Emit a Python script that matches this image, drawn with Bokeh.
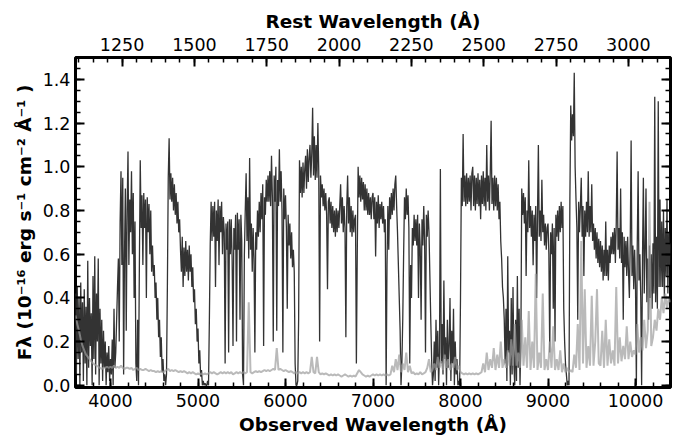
import numpy as np
from bokeh.plotting import figure
from bokeh.models import (Range1d, LinearAxis, FixedTicker, PrintfTickFormatter,
                          CustomJSTickFormatter)
from bokeh.embed import file_html
from bokeh.resources import INLINE

# ---------------- data ----------------
redshift = 2.306
obs_ticks = [4000, 5000, 6000, 7000, 8000, 9000, 10000]
rest_ticks = [1250, 1500, 1750, 2000, 2250, 2500, 2750, 3000]
flux_ticks = [0.0, 0.2, 0.4, 0.6, 0.8, 1.0, 1.2, 1.4]

wave_start = 3600   # first wavelength sample (Angstrom)
flux_step = 10      # sampling of the spectrum (Angstrom)
err_step = 20       # sampling of the error spectrum (Angstrom)

# observed flux, 10 A steps from 3600 A (one row = 100 A)
flux = [
    0.42, 0.05, 0.45, 0.12, 0.40, 0.00, 0.47, 0.15, 0.38, 0.02,  # 3600
    0.44, 0.10, 0.36, 0.00, 0.57, 0.08, 0.40, 0.18, 0.33, 0.00,  # 3700
    0.50, 0.12, 0.59, 0.05, 0.42, 0.20, 0.58, 0.00, 0.35, 0.10,  # 3800
    0.30, 0.02, 0.25, 0.08, 0.20, 0.00, 0.15, 0.06, 0.18, 0.02,  # 3900
    0.12, 0.05, 0.21, 0.00, 0.35, 0.08, 0.15, 0.30, 0.45, 0.58,  # 4000
    0.20, 0.75, 0.98, 0.55, 0.95, 0.05, 0.60, 0.90, 0.25, 0.80,  # 4100
    1.07, 0.55, 0.85, 0.70, 0.98, 0.60, 0.88, 0.40, 0.75, 0.10,  # 4200
    0.02, 0.30, 0.00, 0.55, 1.03, 0.72, 0.87, 0.55, 0.88, 0.72,  # 4300
    0.85, 0.40, 0.86, 0.70, 0.83, 0.60, 0.80, 0.52, 0.64, 0.50,  # 4400
    0.55, 0.40, 0.47, 0.30, 0.40, 0.22, 0.30, 0.13, 0.22, 0.06,  # 4500
    0.12, 0.02, 0.05, 0.00, 0.05, 0.45, 0.95, 1.13, 0.85, 0.97,  # 4600
    0.84, 0.95, 0.80, 0.92, 0.78, 0.88, 0.74, 0.84, 0.70, 0.76,  # 4700
    0.62, 0.52, 0.68, 0.45, 0.63, 0.50, 0.66, 0.52, 0.62, 0.48,  # 4800
    0.64, 0.52, 0.60, 0.45, 0.54, 0.38, 0.44, 0.28, 0.35, 0.20,  # 4900
    0.26, 0.10, 0.16, 0.04, 0.07, 0.00, 0.02, 0.00, 0.01, 0.00,  # 5000
    0.00, 0.02, 0.00, 0.30, 0.65, 0.84, 0.66, 0.82, 0.68, 0.84,  # 5100
    0.45, 0.80, 0.66, 0.85, 0.55, 0.82, 0.70, 0.84, 0.60, 0.77,  # 5200
    0.70, 0.10, 0.74, 0.62, 0.75, 0.15, 0.76, 0.60, 0.76, 0.58,  # 5300
    0.18, 0.72, 0.62, 0.78, 0.20, 0.79, 0.62, 0.76, 0.30, 0.78,  # 5400
    0.66, 0.05, 0.00, 0.60, 0.80, 0.97, 0.66, 0.86, 0.58, 1.04,  # 5500
    0.62, 0.74, 0.52, 0.72, 0.58, 0.15, 0.70, 0.62, 0.80, 0.68,  # 5600
    0.84, 0.70, 0.88, 0.76, 0.92, 0.18, 0.86, 0.78, 0.94, 0.84,  # 5700
    0.96, 0.84, 0.98, 0.82, 1.05, 0.86, 0.20, 0.96, 0.84, 1.00,  # 5800
    0.25, 0.94, 0.82, 1.08, 0.84, 0.98, 0.80, 0.15, 0.90, 0.76,  # 5900
    0.87, 0.72, 0.35, 0.78, 0.64, 0.74, 0.58, 0.70, 0.54, 0.62,  # 6000
    0.52, 0.10, 0.00, 0.00, 0.02, 0.30, 1.03, 0.88, 1.00, 0.86,  # 6100
    1.02, 0.88, 0.99, 1.05, 0.90, 1.08, 0.93, 1.04, 1.10, 0.95,  # 6200
    1.06, 1.27, 0.96, 1.14, 0.94, 1.10, 0.95, 1.20, 0.98, 0.20,  # 6300
    0.96, 0.86, 0.92, 0.82, 0.90, 0.80, 0.88, 0.78, 0.44, 0.84,  # 6400
    0.86, 0.74, 0.84, 0.72, 0.82, 0.70, 0.80, 0.68, 0.81, 0.70,  # 6500
    0.80, 0.72, 0.82, 0.92, 0.74, 0.86, 0.70, 0.82, 0.72, 0.22,  # 6600
    0.82, 0.96, 0.74, 0.86, 0.70, 0.82, 0.68, 0.80, 0.70, 0.76,  # 6700
    0.78, 0.10, 0.60, 1.00, 0.86, 0.96, 0.84, 0.95, 0.85, 0.93,  # 6800
    0.80, 0.92, 0.80, 0.90, 0.78, 0.88, 0.78, 0.86, 0.76, 0.86,  # 6900
    0.88, 0.76, 0.86, 0.59, 0.84, 0.74, 0.87, 0.72, 0.83, 0.76,  # 7000
    0.84, 0.74, 0.82, 0.70, 0.76, 0.00, 0.55, 0.82, 0.62, 0.86,  # 7100
    0.76, 0.88, 0.78, 0.90, 0.80, 0.92, 0.96, 0.82, 0.70, 0.55,  # 7200
    0.40, 0.25, 0.00, 0.10, 0.30, 0.60, 0.86, 0.76, 0.90, 0.78,  # 7300
    0.87, 0.72, 0.10, 0.55, 0.40, 0.72, 0.64, 0.78, 0.66, 0.76,  # 7400
    0.64, 0.78, 0.40, 0.74, 0.62, 0.30, 0.76, 0.64, 0.82, 0.66,  # 7500
    0.15, 0.78, 0.68, 0.80, 0.70, 0.50, 0.30, 0.12, 0.00, 0.05,  # 7600
    0.20, 0.02, 0.30, 0.08, 0.25, 0.00, 0.15, 0.99, 0.10, 0.28,  # 7700
    0.05, 0.48, 0.12, 0.22, 0.00, 0.30, 0.08, 0.18, 0.40, 0.02,  # 7800
    0.25, 0.10, 0.35, 0.00, 0.20, 0.05, 0.12, 0.00, 0.02, 0.00,  # 7900
    0.40, 0.95, 0.82, 1.15, 0.84, 0.96, 0.82, 0.97, 0.83, 0.95,  # 8000
    0.84, 0.96, 0.80, 0.97, 1.00, 0.82, 0.96, 0.80, 0.95, 0.83,  # 8100
    0.97, 0.82, 0.94, 0.76, 0.96, 0.83, 0.98, 0.82, 0.95, 0.80,  # 8200
    1.10, 0.84, 0.96, 0.80, 0.97, 1.21, 0.83, 0.95, 0.80, 0.96,  # 8300
    0.82, 0.95, 0.80, 0.92, 0.76, 0.84, 0.66, 0.58, 0.45, 0.40,  # 8400
    0.30, 0.10, 0.35, 0.02, 0.59, 0.15, 0.25, 0.00, 0.40, 0.05,  # 8500
    0.45, 0.10, 0.00, 0.30, 0.02, 0.50, 0.08, 0.35, 0.00, 0.20,  # 8600
    0.90, 0.78, 0.88, 0.74, 0.86, 0.50, 0.80, 0.70, 1.03, 0.72,  # 8700
    0.82, 0.68, 0.80, 0.55, 0.78, 0.66, 0.82, 0.40, 0.78, 1.10,  # 8800
    0.68, 0.80, 0.66, 0.94, 0.70, 0.78, 0.64, 0.74, 0.62, 0.72,  # 8900
    0.74, 0.60, 0.15, 0.70, 0.60, 0.74, 0.35, 0.72, 0.20, 0.78,  # 9000
    0.68, 0.80, 0.66, 0.82, 0.70, 0.84, 0.72, 0.82, 0.35, 0.20,  # 9100
    0.10, 0.05, 0.00, 0.02, 0.00, 0.85, 1.28, 1.12, 1.24, 1.14,  # 9200
    1.43, 1.00, 0.85, 0.72, 0.30, 0.84, 0.70, 0.82, 0.95, 0.68,  # 9300
    0.82, 0.50, 0.80, 0.68, 0.84, 0.70, 0.98, 0.68, 0.82, 0.70,  # 9400
    0.92, 0.66, 0.74, 0.62, 0.72, 0.58, 0.70, 0.56, 0.67, 0.54,  # 9500
    0.66, 0.52, 0.64, 0.48, 0.62, 0.50, 0.75, 0.50, 0.62, 0.48,  # 9600
    0.64, 0.56, 0.68, 0.60, 0.70, 0.60, 0.72, 0.56, 0.74, 1.07,  # 9700
    0.62, 0.72, 0.58, 0.90, 0.56, 0.70, 0.30, 0.68, 0.54, 0.66,  # 9800
    0.50, 0.68, 0.52, 0.40, 0.66, 1.12, 0.50, 0.64, 0.44, 0.62,  # 9900
    0.46, 0.00, 0.64, 0.98, 0.48, 0.60, 0.40, 0.00, 0.58, 0.95,  # 10000
    0.42, 0.62, 0.90, 0.38, 0.58, 0.30, 0.64, 0.40, 0.60, 0.35,  # 10100
    0.65, 0.42, 1.32, 0.38, 0.68, 0.35, 1.30, 0.45, 0.85, 0.45,  # 10200
    0.75, 0.45, 0.80, 0.40, 0.72, 0.50, 0.85, 0.42, 0.70, 0.55,  # 10300
    0.65,                                                        # 10400
]

# error spectrum, 20 A steps from 3600 A (one row = 200 A)
flux_err = [
    0.32, 0.28, 0.25, 0.21, 0.18, 0.16, 0.14, 0.13, 0.12, 0.11,        # 3600
    0.10, 0.095, 0.09, 0.085, 0.08, 0.075, 0.08, 0.08, 0.085, 0.08,    # 3800
    0.085, 0.08, 0.09, 0.08, 0.085, 0.08, 0.09, 0.08, 0.075, 0.08,     # 4000
    0.08, 0.075, 0.08, 0.07, 0.075, 0.08, 0.07, 0.075, 0.07, 0.07,     # 4200
    0.075, 0.07, 0.065, 0.07, 0.065, 0.065, 0.06, 0.065, 0.06, 0.065,  # 4400
    0.06, 0.065, 0.07, 0.075, 0.065, 0.07, 0.065, 0.07, 0.065, 0.06,   # 4600
    0.065, 0.06, 0.065, 0.06, 0.055, 0.06, 0.055, 0.06, 0.055, 0.05,  # 4800
    0.055, 0.05, 0.055, 0.05, 0.055, 0.05, 0.055, 0.06, 0.055, 0.06,  # 5000
    0.055, 0.05, 0.055, 0.06, 0.055, 0.06, 0.055, 0.06, 0.055, 0.06,  # 5200
    0.05, 0.055, 0.06, 0.055, 0.06, 0.055, 0.06, 0.055, 0.06, 0.38,   # 5400
    0.06, 0.055, 0.06, 0.065, 0.06, 0.065, 0.06, 0.065, 0.07, 0.065,  # 5600
    0.07, 0.065, 0.07, 0.075, 0.07, 0.17, 0.07, 0.075, 0.07, 0.065,   # 5800
    0.07, 0.065, 0.06, 0.065, 0.06, 0.055, 0.06, 0.055, 0.06, 0.055,  # 6000
    0.06, 0.055, 0.06, 0.055, 0.06, 0.13, 0.06, 0.055, 0.13, 0.06,    # 6200
    0.05, 0.055, 0.05, 0.055, 0.05, 0.045, 0.05, 0.045, 0.05, 0.045,  # 6400
    0.05, 0.045, 0.04, 0.045, 0.05, 0.045, 0.04, 0.045, 0.04, 0.045,  # 6600
    0.04, 0.055, 0.07, 0.06, 0.05, 0.045, 0.04, 0.045, 0.04, 0.045,   # 6800
    0.05, 0.045, 0.05, 0.045, 0.05, 0.045, 0.05, 0.045, 0.05, 0.045,  # 7000
    0.05, 0.09, 0.06, 0.12, 0.07, 0.14, 0.06, 0.10, 0.07, 0.15,       # 7200
    0.06, 0.09, 0.055, 0.06, 0.05, 0.055, 0.05, 0.06, 0.05, 0.055,    # 7400
    0.06, 0.08, 0.12, 0.06, 0.07, 0.10, 0.07, 0.13, 0.08, 0.11,       # 7600
    0.07, 0.14, 0.08, 0.12, 0.07, 0.10, 0.08, 0.13, 0.07, 0.09,       # 7800
    0.06, 0.055, 0.05, 0.055, 0.05, 0.055, 0.05, 0.055, 0.05, 0.055,  # 8000
    0.05, 0.055, 0.06, 0.10, 0.06, 0.15, 0.07, 0.12, 0.08, 0.17,      # 8200
    0.07, 0.14, 0.08, 0.20, 0.08, 0.12, 0.08, 0.16, 0.09, 0.21,       # 8400
    0.09, 0.28, 0.09, 0.15, 0.08, 0.30, 0.09, 0.22, 0.08, 0.34,       # 8600
    0.07, 0.20, 0.08, 0.51, 0.07, 0.15, 0.08, 0.42, 0.07, 0.12,       # 8800
    0.07, 0.20, 0.08, 0.27, 0.07, 0.12, 0.07, 0.16, 0.06, 0.10,       # 9000
    0.06, 0.08, 0.06, 0.07, 0.06, 0.14, 0.08, 0.28, 0.07, 0.66,       # 9200
    0.10, 0.44, 0.08, 0.18, 0.09, 0.41, 0.09, 0.20, 0.44, 0.10,       # 9400
    0.09, 0.25, 0.08, 0.30, 0.09, 0.21, 0.10, 0.16, 0.09, 0.45,       # 9600
    0.10, 0.22, 0.11, 0.18, 0.12, 0.27, 0.12, 0.20, 0.13, 0.16,       # 9800
    0.14, 0.28, 0.15, 0.22, 0.16, 0.30, 0.17, 0.25, 0.84, 0.18,       # 10000
    0.22, 0.30, 0.25, 0.35, 0.30, 0.40, 0.33, 0.42, 0.35, 0.40,       # 10200
    0.38,                                                             # 10400
]

wave = wave_start + flux_step * np.arange(len(flux))
wave_err = wave_start + err_step * np.arange(len(flux_err))

x_lo, x_hi = 3600, 10400
y_lo, y_hi = -0.01, 1.5

# ---------------- figure ----------------
p = figure(frame_width=595, frame_height=330,
           x_range=Range1d(x_lo, x_hi), y_range=Range1d(y_lo, y_hi),
           output_backend="svg", toolbar_location=None,
           min_border_left=75, min_border_right=7,
           min_border_top=57, min_border_bottom=50)
p.extra_x_ranges = {"rest": Range1d(x_lo / (1 + redshift), x_hi / (1 + redshift))}

p.grid.visible = False
p.outline_line_color = "black"
p.outline_line_width = 3
p.background_fill_color = "white"
p.border_fill_color = "white"

p.line(wave, flux, line_color="#333333", line_width=1.3)
p.line(wave_err, flux_err, line_color="#9c9c9c", line_alpha=0.7, line_width=2.0)

FONT = "DejaVu Sans"


def style(ax):
    ax.axis_line_color = None
    ax.major_tick_in = 9
    ax.major_tick_out = 0
    ax.minor_tick_in = 5
    ax.minor_tick_out = 0
    ax.major_tick_line_width = 2
    ax.minor_tick_line_width = 1.5
    ax.major_tick_line_color = "black"
    ax.minor_tick_line_color = "black"
    ax.major_label_text_font = FONT
    ax.major_label_text_color = "black"
    ax.major_label_text_font_size = "17.5px"
    ax.axis_label_text_font = FONT
    ax.axis_label_text_font_style = "bold"
    ax.axis_label_text_font_size = "18.5px"
    ax.axis_label_text_color = "black"


obs_minor = list(range(3600, 10401, 200))
rest_minor = list(range(1100, 3201, 50))
flux_minor = [round(0.05 * i, 2) for i in range(0, 31)]

xb = p.below[0]
xb.ticker = FixedTicker(ticks=obs_ticks, minor_ticks=obs_minor)
xb.axis_label = "Observed Wavelength (Å)"
style(xb)
xb.major_label_standoff = 6
xb.axis_label_standoff = 4

yl = p.left[0]
yl.ticker = FixedTicker(ticks=flux_ticks, minor_ticks=flux_minor)
yl.formatter = PrintfTickFormatter(format="%.1f")
yl.axis_label = "Fλ (10⁻¹⁶ erg s⁻¹ cm⁻² Å⁻¹ )"
style(yl)
yl.major_label_standoff = 5
yl.axis_label_standoff = 5

xt = LinearAxis(x_range_name="rest",
                ticker=FixedTicker(ticks=rest_ticks, minor_ticks=rest_minor),
                axis_label="Rest Wavelength (Å)")
style(xt)
xt.major_label_standoff = 7
xt.axis_label_standoff = 3
p.add_layout(xt, "above")

yr = LinearAxis(ticker=FixedTicker(ticks=flux_ticks, minor_ticks=flux_minor),
                formatter=CustomJSTickFormatter(code="return ''"))
style(yr)
yr.major_label_standoff = 0
p.add_layout(yr, "right")

open("out.html", "w").write(file_html(p, INLINE))
